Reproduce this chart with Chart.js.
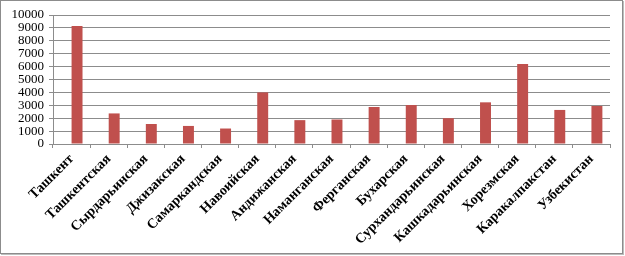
<!DOCTYPE html>
<html>
<head>
<meta charset="utf-8">
<script src="https://cdn.jsdelivr.net/npm/chart.js@4.4.1/dist/chart.umd.min.js"></script>
<style>
  html, body { margin: 0; padding: 0; background: #fff; }
  #wrap { position: relative; width: 625px; height: 256px; }
  #frame { position: absolute; left: 0; top: 0; width: 621px; height: 252px; border: 1px solid #8c8c8c; box-shadow: 1px 1px 0 #bdbdbd; }
  canvas { position: absolute; left: 0; top: 0; }
</style>
</head>
<body>
<div id="wrap">
  <div id="frame"></div>
  <canvas id="myChart" width="625" height="256"></canvas>
</div>
<script>
// data
const regions = ['Ташкент', 'Ташкентская', 'Сырдарьинская', 'Джизакская', 'Самаркандская', 'Навоийская',
	'Андижанская', 'Наманганская', 'Ферганская', 'Бухарская', 'Сурхандарьинская', 'Кашкадарьинская',
	'Хорезмская', 'Каракалпакстан', 'Узбекистан'];
const values = [9150, 2370, 1550, 1400, 1200, 4000, 1850, 1900, 2870, 3020, 2000, 3230, 6200, 2640, 2950];
// the source chart has an empty first series, so each bar sits right of its category centre
const emptySeries = regions.map(() => null);
const yMax = 10000;
const yStep = 1000;

const serif = "'Liberation Serif', 'Times New Roman', serif";

const ctx = document.getElementById('myChart').getContext('2d');
new Chart(ctx, {
	type: 'bar',
	data: {
		labels: regions,
		datasets: [{
			data: emptySeries,
			backgroundColor: '#4f81bd',
			barPercentage: 1,
			categoryPercentage: 0.59
		}, {
			data: values,
			backgroundColor: '#c0504d',
			borderWidth: 0,
			barPercentage: 1,
			categoryPercentage: 0.59
		}]
	},
	options: {
		responsive: false,
		animation: false,
		devicePixelRatio: 1,
		layout: { padding: { top: 15, right: 15, left: 0, bottom: 0 } },
		plugins: { legend: { display: false }, tooltip: { enabled: false } },
		scales: {
			x: {
				offset: true,
				grid: { offset: true, drawOnChartArea: false, color: '#8c8c8c', tickLength: 4 },
				border: { color: '#8c8c8c', width: 1 },
				ticks: {
					minRotation: 45, maxRotation: 45, autoSkip: false, padding: 3,
					color: '#000',
					font: { family: serif, size: 14, weight: 'bold' }
				},
				afterFit: function(axis) { axis.height = 256 - 144; }
			},
			y: {
				min: 0, max: yMax,
				grid: { color: '#8c8c8c', tickLength: 4 },
				border: { color: '#8c8c8c', width: 1 },
				ticks: {
					stepSize: yStep, padding: 5, autoSkip: false,
					color: '#000',
					font: { family: serif, size: 13 },
					callback: function(v) { return String(v); }
				},
				afterFit: function(axis) { axis.width = 53; }
			}
		}
	}
});
</script>
</body>
</html>
